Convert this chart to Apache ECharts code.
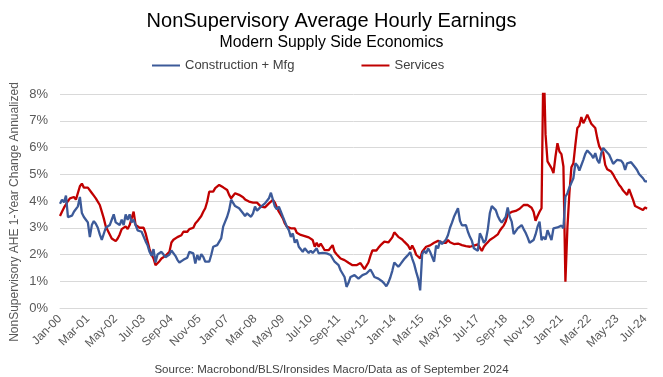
<!DOCTYPE html>
<html><head><meta charset="utf-8">
<script src="https://cdn.jsdelivr.net/npm/echarts@6/dist/echarts.min.js"></script>
<style>html,body{margin:0;padding:0;background:#fff}#c{width:663px;height:377px}</style>
</head><body><div id="c"></div>
<script>
// Monthly categories Jan-00 .. Aug-24
const monthNames = ['Jan','Feb','Mar','Apr','May','Jun','Jul','Aug','Sep','Oct','Nov','Dec'];
const startYear = 2000, nMonths = 296;
const categories = [];
for (let i = 0; i < nMonths; i++) {
  const y = startYear + Math.floor(i / 12);
  categories.push(monthNames[i % 12] + '-' + String(y % 100).padStart(2, '0'));
}

const constructionMfg = [
3.9,4.05,3.95,4.2,3.4,3.35,3.45,3.6,3.55,3.8,4.15,3.55,
3.4,3.3,3.2,2.65,3.1,3.25,3.15,3.0,2.75,2.55,2.6,3.0,
3.05,3.1,3.3,3.5,3.2,3.25,3.1,3.3,3.1,3.5,3.3,3.5,
3.2,3.3,3.1,2.9,2.95,2.85,2.9,2.5,2.35,2.1,1.95,2.2,
1.7,2.0,2.05,2.1,2.0,1.9,1.85,2.0,2.15,2.1,1.95,1.8,
1.7,1.76,1.8,1.83,1.88,2.1,2.04,2.04,1.66,1.98,1.79,2.01,
1.91,1.73,1.66,1.73,1.98,2.29,2.23,2.35,2.41,2.6,3.04,3.23,
3.41,3.66,4.05,4.1,3.81,3.79,3.73,3.79,3.54,3.44,3.54,3.6,
3.41,3.54,3.79,3.64,3.66,3.79,3.85,3.91,3.98,4.1,4.31,4.29,
3.79,3.69,3.79,3.6,3.41,3.23,3.04,2.91,2.66,2.79,2.44,2.56,
2.29,2.31,2.1,2.23,2.14,2.06,2.14,2.06,2.04,2.23,2.04,1.98,
2.06,2.1,2.04,1.98,1.98,1.91,1.73,1.79,1.6,1.41,1.35,1.16,
0.79,0.94,1.16,1.16,1.23,1.26,1.1,1.1,1.23,1.16,1.29,1.35,
1.44,1.31,1.16,1.23,1.1,1.04,0.99,0.91,0.81,0.95,1.14,1.39,
1.7,1.66,1.54,1.63,1.69,1.83,1.91,1.99,2.09,1.85,1.64,1.35,
1.1,0.66,2.01,2.14,2.04,2.23,2.1,2.06,1.73,2.33,2.23,2.51,
2.39,2.44,2.56,2.73,3.0,3.19,3.41,3.41,3.73,3.26,3.09,3.09,
3.1,2.85,2.66,2.51,2.23,2.26,2.14,2.79,2.64,2.44,2.54,2.94,
3.54,3.81,3.81,3.66,3.44,3.29,3.19,3.14,3.41,3.76,3.41,3.23,
2.76,2.76,2.98,3.01,3.1,2.95,2.81,2.64,2.44,2.41,2.54,2.75,
3.04,3.23,2.54,2.66,2.56,2.91,2.89,2.54,2.98,3.04,3.01,3.08,
3.08,2.98,4.16,4.29,4.51,4.51,4.85,5.41,5.33,5.14,5.1,5.54,
5.76,5.89,5.91,5.73,5.6,5.79,5.54,5.41,5.79,5.98,5.91,5.81,
5.73,5.73,5.39,5.41,5.54,5.59,5.51,5.41,5.16,5.41,5.48,5.45,
5.39,5.26,5.16,5.01,4.95,4.85,4.73,4.73
];

const services = [
3.44,3.6,3.75,3.8,4.0,4.1,4.05,4.15,4.05,4.1,4.55,4.65,
4.5,4.45,4.5,4.45,4.3,4.2,4.1,4.05,3.85,3.6,3.35,3.05,
2.9,2.75,2.6,2.55,2.5,2.6,2.75,2.95,2.9,3.05,2.95,3.1,
3.15,3.6,3.1,3.1,3.0,2.95,3.0,2.8,2.5,2.2,2.0,1.85,
1.6,1.55,1.75,1.85,1.9,1.95,2.0,2.1,2.45,2.55,2.6,2.65,
2.7,2.72,2.85,2.79,2.85,2.95,2.98,3.0,3.16,3.24,3.29,3.44,
3.6,3.73,3.98,4.35,4.41,4.35,4.48,4.54,4.6,4.54,4.51,4.48,
4.41,4.23,4.1,4.16,4.29,4.25,4.23,4.19,4.14,4.06,4.04,3.98,
3.98,3.94,3.98,3.94,3.98,3.79,3.81,3.76,3.81,3.91,3.89,4.04,
3.94,3.76,3.6,3.48,3.35,3.16,3.04,3.1,2.98,3.04,2.98,2.81,
2.85,2.73,2.79,2.69,2.76,2.64,2.66,2.54,2.29,2.44,2.29,2.41,
2.29,2.16,2.1,2.16,2.14,2.35,2.1,2.01,1.94,1.85,1.91,1.79,
1.73,1.69,1.76,1.6,1.66,1.6,1.54,1.68,1.65,1.45,1.45,1.7,
1.95,2.15,2.15,2.15,2.25,2.34,2.4,2.48,2.53,2.45,2.49,2.64,
2.83,2.79,2.66,2.64,2.56,2.48,2.41,2.33,2.19,2.34,2.19,1.99,
2.01,1.85,2.1,2.13,2.29,2.23,2.34,2.33,2.44,2.38,2.51,2.46,
2.44,2.51,2.44,2.54,2.46,2.39,2.39,2.46,2.41,2.45,2.35,2.36,
2.31,2.35,2.29,2.33,2.33,2.34,2.38,2.41,2.13,2.29,2.38,2.46,
2.54,2.61,2.64,2.66,2.75,2.89,2.99,3.08,3.23,3.51,3.48,3.59,
3.54,3.63,3.69,3.71,3.73,3.85,3.8,3.85,3.9,3.75,3.6,3.26,
3.44,3.6,3.73,9.5,6.5,5.48,5.48,5.23,5.04,5.66,6.16,5.85,
5.75,5.29,0.98,3.0,4.29,5.26,5.41,6.1,6.73,6.81,7.14,6.91,
7.06,7.23,7.23,6.89,6.91,6.73,6.35,6.04,5.91,5.81,5.35,5.19,
5.26,5.1,4.99,4.85,4.73,4.6,4.51,4.39,4.31,4.23,4.44,4.48,
4.04,3.81,3.79,3.74,3.79,3.66,3.76,3.71
];

const yTicks = [0,1,2,3,4,5,6,7,8];

const chart = echarts.init(document.getElementById('c'), null, {renderer:'canvas'});
const FONT = '"Liberation Sans", Arial, sans-serif';
chart.setOption({
  animation: false,
  backgroundColor: '#ffffff',
  title: [
    {text: 'NonSupervisory Average Hourly Earnings', left: 'center', top: 6,
     textStyle: {fontFamily: FONT, fontSize: 20, fontWeight: 'normal', color: '#000'}},
    {text: 'Modern Supply Side Economics', left: 'center', top: 30,
     textStyle: {fontFamily: FONT, fontSize: 15.8, fontWeight: 'normal', color: '#000'}},
    {text: 'Source: Macrobond/BLS/Ironsides Macro/Data as of September 2024', left: 'center', top: 359,
     textStyle: {fontFamily: FONT, fontSize: 11.5, fontWeight: 'normal', color: '#404040'}}
  ],
  graphic: [
    {type: 'text', x: 15, y: 212, rotation: Math.PI / 2, silent: true,
     style: {text: 'NonSupervisory AHE 1-Year Change Annualized', align: 'center', verticalAlign: 'middle',
       font: '12px "Liberation Sans", Arial, sans-serif', fill: '#595959'}}
  ],
  legend: {
    top: 54, left: 147, itemGap: 67, itemWidth: 28, itemHeight: 2, itemTextGap: 3,
    icon: 'rect',
    textStyle: {fontFamily: FONT, fontSize: 13, color: '#404040'},
    data: ['Construction + Mfg', 'Services']
  },
  grid: {left: 60, right: 16, top: 94, bottom: 69, containLabel: false},
  xAxis: {
    type: 'category', data: categories, boundaryGap: false,
    axisLine: {show: true, lineStyle: {color: '#d9d9d9'}},
    axisTick: {show: false},
    axisLabel: {interval: 13, rotate: 45, margin: 9, fontFamily: FONT, fontSize: 12, color: '#595959'}
  },
  yAxis: {
    type: 'value', min: 0, max: 8, interval: 1,
    axisLine: {show: false}, axisTick: {show: false},
    axisLabel: {margin: 12, fontFamily: FONT, fontSize: 13, color: '#595959',
      formatter: v => yTicks.includes(v) ? v + '%' : ''},
    splitLine: {lineStyle: {color: '#d9d9d9', width: 1}}
  },
  series: [
    {name: 'Construction + Mfg', type: 'line', data: constructionMfg, showSymbol: false,
     lineStyle: {color: '#3c5a99', width: 2.3}, itemStyle: {color: '#3c5a99'}, z: 3},
    {name: 'Services', type: 'line', data: services, showSymbol: false,
     lineStyle: {color: '#c00000', width: 2.3}, itemStyle: {color: '#c00000'}, z: 2}
  ]
});
</script></body></html>
